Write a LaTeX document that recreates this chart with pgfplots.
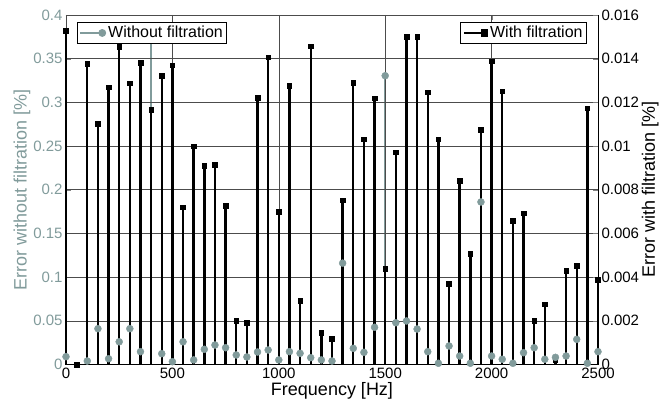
\documentclass[border=0pt]{standalone}
\usepackage{fontspec}
\setmainfont{Liberation Sans}
\usepackage{pgfplots}
\pgfplotsset{compat=1.18}
\definecolor{nofilt}{HTML}{819B9B}

% error without filtration (left axis)
\pgfplotstableread{
f e
0 0.009
100 0.004
150 0.041
200 0.0066
250 0.026
300 0.041
350 0.0147
400 0.38
450 0.0124
500 0.0032
550 0.026
600 0.0052
650 0.0174
700 0.0223
750 0.0192
800 0.0109
850 0.0086
900 0.0143
950 0.0166
1000 0.0052
1050 0.0147
1100 0.0128
1150 0.0078
1200 0.0052
1250 0.004
1300 0.116
1350 0.0185
1400 0.0139
1450 0.0426
1500 0.3305
1550 0.0478
1600 0.0498
1650 0.0406
1700 0.0147
1750 0.0014
1800 0.0212
1850 0.0097
1900 0.0014
1950 0.186
2000 0.0097
2050 0.006
2100 0.0014
2150 0.0135
2200 0.0192
2250 0.006
2300 0.0082
2350 0.0097
2400 0.0288
2450 0.0014
2500 0.0147
}\withoutfilt

% error with filtration (right axis)
\pgfplotstableread{
f e
0 0.01527
50 0.0
100 0.01376
150 0.01101
200 0.01270
250 0.01455
300 0.01287
350 0.01382
400 0.01165
450 0.01322
500 0.01370
550 0.00720
600 0.01000
650 0.00910
700 0.00915
750 0.00726
800 0.00199
850 0.00191
900 0.01221
950 0.01406
1000 0.00698
1050 0.01275
1100 0.00291
1150 0.01457
1200 0.00146
1250 0.00118
1300 0.00752
1350 0.01290
1400 0.01031
1450 0.01219
1500 0.00439
1550 0.00971
1600 0.01501
1650 0.01501
1700 0.01246
1750 0.01031
1800 0.00370
1850 0.00840
1900 0.00507
1950 0.01075
2000 0.01389
2050 0.01251
2100 0.00657
2150 0.00692
2200 0.00201
2250 0.00276
2300 0.00020
2350 0.00429
2400 0.00452
2450 0.01173
2500 0.00387
}\withfilt

\pgfplotsset{
  base/.style={
    width=532pt, height=349.5pt, scale only axis,
    xmin=0, xmax=2500, clip=false,
    scaled ticks=false,
    /pgf/number format/assume math mode=true,
    /pgf/number format/fixed, /pgf/number format/precision=3,
    /pgf/number format/1000 sep={},
    tick label style={font=\fontsize{15}{17}\selectfont},
    label style={font=\fontsize{18}{20}\selectfont},
    tick align=inside, major tick length=5pt,
    axis line style={line width=0.9pt},
    legend style={draw=black, line width=0.8pt, fill=white,
      font=\fontsize{16}{18}\selectfont, inner sep=2pt, row sep=0pt},
    legend cell align=left,
  },
}

\begin{document}
\begin{tikzpicture}
\path[use as bounding box] (-66pt,-43.5pt) rectangle (600pt,364.5pt);

\begin{axis}[base,
  ymin=0, ymax=0.4, ytick={0,0.05,...,0.4},
  xtick={0,500,...,2500},
  ytick pos=left,
  yticklabel style={text=nofilt},
  ylabel={Error without filtration [\%]},
  ylabel style={text=nofilt, yshift=-4pt},
  xlabel={Frequency [Hz]},
  xlabel style={yshift=3pt},
]
\addplot[ycomb, nofilt, line width=1.7pt] table[x=f, y=e] {\withoutfilt};
\end{axis}

\begin{axis}[base,
  ymin=0, ymax=0.016, ytick={0,0.002,...,0.016},
  xtick={0,500,...,2500}, xticklabels={},
  axis y line*=right, axis x line*=bottom,
  xmajorgrids, ymajorgrids,
  grid style={black!70, line width=0.6pt},
  ylabel={Error with filtration [\%]},
  ylabel style={yshift=4pt},
  legend style={at={(1,1)}, anchor=north east, xshift=-11pt, yshift=-7pt},
  legend image code/.code={
    \draw[black, line width=2.4pt] (0pt,0pt) -- (20pt,0pt);
    \fill[black] (18pt,-2.4pt) rectangle (23pt,2.4pt);},
]
\addplot[ycomb, black, line width=2.4pt, mark=square*, mark size=2.3pt,
  mark options={solid, line width=0.5pt}] table[x=f, y=e] {\withfilt};
\addlegendentry{With filtration}
\end{axis}

\begin{axis}[base, hide axis, ymin=0, ymax=0.4,
  legend style={at={(0,1)}, anchor=north west, xshift=11pt, yshift=-7pt},
  legend image code/.code={
    \draw[nofilt, line width=1.7pt] (0pt,0pt) -- (22pt,0pt);
    \fill[nofilt] (22pt,0pt) circle (3.5pt);},
]
\addplot[only marks, mark=*, mark size=3.5pt, color=nofilt, mark options={draw=nofilt, fill=nofilt}]
  table[x=f, y=e] {\withoutfilt};
\addlegendentry{Without filtration}
\end{axis}
\end{tikzpicture}
\end{document}
